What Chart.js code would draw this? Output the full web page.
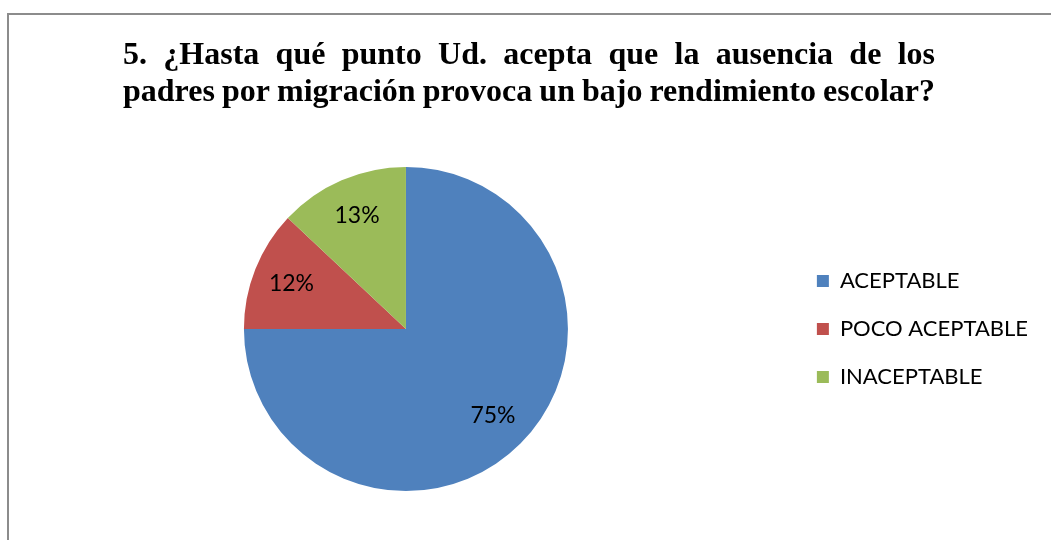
<!DOCTYPE html>
<html lang="es">
<head>
<meta charset="utf-8">
<title>Pregunta 5</title>
<script src="https://cdn.jsdelivr.net/npm/chart.js@4"></script>
<style>
  html, body { margin: 0; padding: 0; background: #ffffff; }
  #caja { width: 1051px; height: 540px; position: relative; }
</style>
</head>
<body>
<div id="caja"><canvas id="grafico"></canvas></div>
<script>
// datos del grafico
const categorias = ['ACEPTABLE', 'POCO ACEPTABLE', 'INACEPTABLE'];
const porcentajes = [75, 12, 13];
const colores = ['#4F81BD', '#C0504D', '#9BBB59'];
const lineasTitulo = [
    '5. ¿Hasta qué punto Ud. acepta que la ausencia de los',
    'padres por migración provoca un bajo rendimiento escolar?'
];

// marco gris y titulo justificado (como en Word)
const marcoYTitulo = {
    id: 'marcoYTitulo',
    beforeDraw(chart) {
        const c = chart.ctx;
        c.save();
        c.strokeStyle = '#8c8c8c';
        c.lineWidth = 2;
        c.beginPath();
        c.moveTo(8, 540);
        c.lineTo(8, 14);
        c.lineTo(1051, 14);
        c.stroke();

        c.fillStyle = '#000000';
        c.font = 'bold 32px "Liberation Serif", "Times New Roman", serif';
        c.textBaseline = 'alphabetic';
        const izq = 123, der = 935;
        const bases = [64, 101];
        lineasTitulo.forEach((linea, i) => {
            const palabras = linea.split(' ');
            const anchos = palabras.map(p => c.measureText(p).width);
            const total = anchos.reduce((a, b) => a + b, 0);
            const hueco = (der - izq - total) / (palabras.length - 1);
            let x = izq;
            palabras.forEach((p, k) => {
                c.fillText(p, x, bases[i]);
                x += anchos[k] + hueco;
            });
        });
        c.restore();
    }
};

// porcentajes dentro de cada sector
const etiquetas = {
    id: 'etiquetas',
    afterDatasetsDraw(chart) {
        const c = chart.ctx;
        const meta = chart.getDatasetMeta(0);
        c.save();
        c.fillStyle = '#000000';
        c.font = '23px Lato, "Open Sans", sans-serif';
        c.textAlign = 'center';
        c.textBaseline = 'middle';
        meta.data.forEach((arco, i) => {
            const { x, y, startAngle, endAngle, outerRadius } = arco.getProps(['x', 'y', 'startAngle', 'endAngle', 'outerRadius'], true);
            const medio = (startAngle + endAngle) / 2;
            const r = outerRadius * 0.76;
            c.fillText(porcentajes[i] + '%', x + Math.cos(medio) * r, y + Math.sin(medio) * r);
        });
        c.restore();
    }
};

document.addEventListener('DOMContentLoaded', () => {
    const ctx = document.getElementById('grafico').getContext('2d');
    new Chart(ctx, {
        type: 'pie',
        data: {
            labels: categorias,
            datasets: [{
                data: porcentajes,
                backgroundColor: colores,
                borderWidth: 0
            }]
        },
        options: {
            responsive: true,
            maintainAspectRatio: false,
            animation: false,
            layout: { padding: { top: 167, bottom: 49, left: 21, right: 13 } },
            plugins: {
                title: { display: false },
                tooltip: { enabled: false },
                legend: {
                    display: true,
                    position: 'right',
                    align: 'center',
                    labels: {
                        boxWidth: 12,
                        boxHeight: 12,
                        padding: 26,
                        color: '#000000',
                        font: { family: 'Lato, "Open Sans", sans-serif', size: 22 }
                    }
                }
            }
        },
        plugins: [marcoYTitulo, etiquetas]
    });
});
</script>
</body>
</html>
